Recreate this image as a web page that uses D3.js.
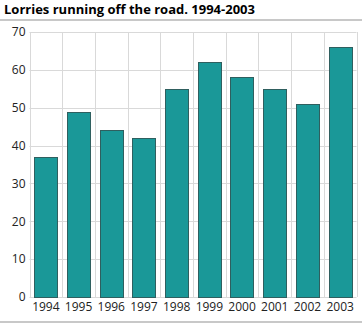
<!DOCTYPE html>
<html><head><meta charset="utf-8">
<script src="https://cdn.jsdelivr.net/npm/d3@7"></script>
<style>body{margin:0;background:#fff}svg{display:block}</style>
</head><body>
<script>
const categories = ["1994","1995","1996","1997","1998","1999","2000","2001","2002","2003"];
const values = [37,49,44,42,55,62,58,55,51,66];
const yTicks = [0,10,20,30,40,50,60,70];
const title = "Lorries running off the road. 1994-2003";

const W=362,H=323;
const m={l:29.5,r:5.5,t:32,b:26};
const svg=d3.select("body").append("svg").attr("width",W).attr("height",H);
const font="'Open Sans', sans-serif";

svg.append("text").attr("x",4).attr("y",14).text(title)
  .attr("font-family",font).attr("font-weight","bold").attr("font-size",13).attr("fill","#000");
svg.append("rect").attr("x",0).attr("y",19).attr("width",W).attr("height",2).attr("fill","#c8c8c8");
svg.append("rect").attr("x",0).attr("y",321).attr("width",W).attr("height",2).attr("fill","#c8c8c8");

const x=d3.scaleBand().domain(categories).range([m.l,W-m.r]).paddingInner(0.29).paddingOuter(0.145);
const xb=d3.scaleBand().domain(categories).range([m.l,W-m.r]);
const y=d3.scaleLinear().domain([0,70]).range([H-m.b,m.t]);

const g=svg.append("g");
g.selectAll(".hg").data(yTicks).join("line")
  .attr("x1",m.l).attr("x2",W-m.r).attr("y1",d=>Math.round(y(d))+0.5).attr("y2",d=>Math.round(y(d))+0.5)
  .attr("stroke","#d9d9d9").attr("stroke-width",1);
const vx=categories.map(c=>xb(c)).concat([xb(categories[categories.length-1])+xb.bandwidth()]);
g.selectAll(".vg").data(vx).join("line")
  .attr("x1",d=>Math.round(d)+0.5).attr("x2",d=>Math.round(d)+0.5).attr("y1",m.t).attr("y2",H-m.b)
  .attr("stroke","#d9d9d9").attr("stroke-width",1);

g.selectAll(".bar").data(values).join("rect")
  .attr("x",(d,i)=>Math.round(x(categories[i]))+0.5)
  .attr("y",d=>Math.round(y(d))+0.5)
  .attr("width",Math.round(x.bandwidth()))
  .attr("height",d=>Math.round(y(0))-Math.round(y(d)))
  .attr("fill","#1a9898").attr("stroke","#2f5f5f").attr("stroke-width",1);

const ya=svg.append("g").attr("transform",`translate(${m.l},0)`)
  .call(d3.axisLeft(y).tickValues(yTicks).tickSize(0).tickPadding(4));
ya.select(".domain").remove();
ya.selectAll("text").attr("font-family",font).attr("font-size",12).attr("fill","#222");

const xa=svg.append("g").attr("transform",`translate(0,${H-m.b})`)
  .call(d3.axisBottom(xb).tickSize(0).tickPadding(5));
xa.select(".domain").remove();
xa.selectAll("text").attr("font-family",font).attr("font-size",12).attr("fill","#222");
</script>
</body></html>
